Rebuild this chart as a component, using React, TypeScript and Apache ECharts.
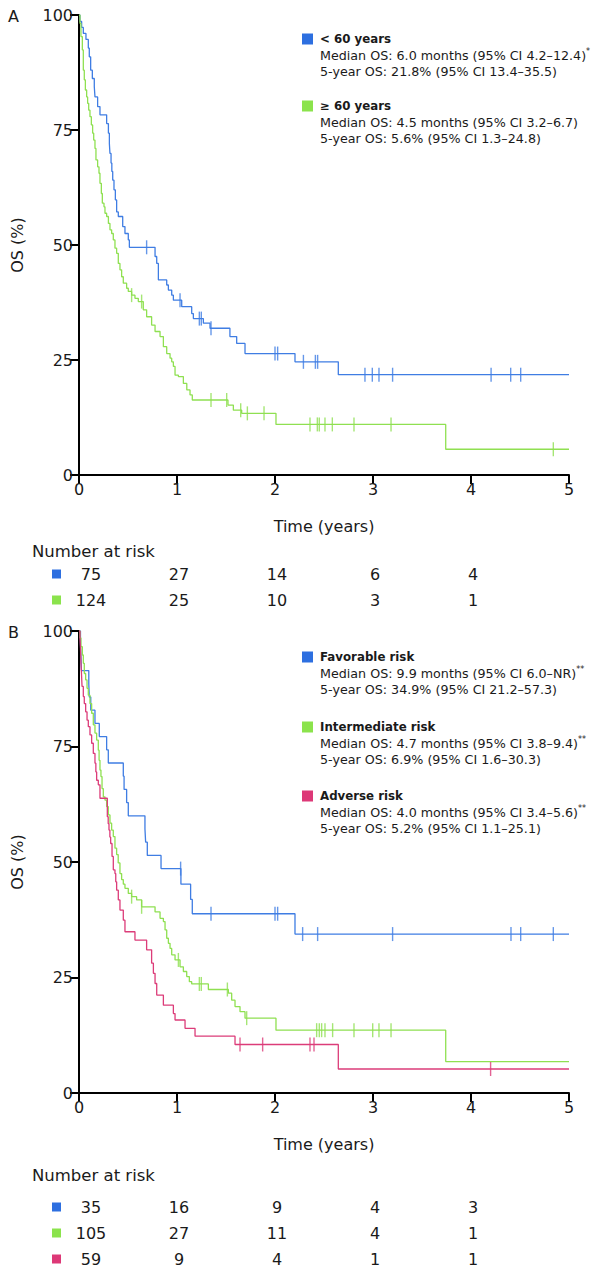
import React, { useEffect, useRef } from "react";
import * as echarts from "echarts";

const FONT = "DejaVu Sans";
const TXT = "#1a1a1a";
const BLUE = "#3f7de3";
const GREEN = "#8fe051";
const RED = "#dc3c79";
const BLUE_SQ = "#2d6fe0";
const GREEN_SQ = "#8be34c";
const RED_SQ = "#dd3877";

// ---------- Panel A data ----------
const under60Steps: number[][] = [
  [0, 100], [0.01, 98.6], [0.027, 97.3], [0.044, 96.0], [0.071, 94.7], [0.095, 92.8], [0.105, 90.9],
  [0.119, 88.0], [0.136, 86.2], [0.156, 84.4], [0.163, 82.2], [0.19, 80.1], [0.214, 78.3], [0.282, 76.4],
  [0.3, 74.3], [0.31, 72.0], [0.316, 69.9], [0.327, 67.8], [0.335, 66.0], [0.344, 64.1], [0.357, 62.0],
  [0.371, 59.8], [0.384, 57.2], [0.401, 56.2], [0.446, 54.0], [0.469, 52.5], [0.503, 51.1], [0.514, 49.5],
  [0.776, 47.5], [0.793, 46.0], [0.81, 42.4], [0.895, 41.3], [0.912, 40.2], [0.946, 39.1], [0.963, 38.0],
  [1.048, 36.6], [1.15, 35.1], [1.167, 34.0], [1.269, 33.0], [1.337, 31.9], [1.54, 30.1], [1.609, 28.6],
  [1.694, 26.4], [2.204, 24.6], [2.646, 21.8], [5, 21.8],
];
const under60Censor = [0.69, 1.031, 1.228, 1.248, 1.347, 2.0, 2.027, 2.29, 2.412, 2.435, 2.918, 2.993, 3.061, 3.2, 4.205, 4.405, 4.507];

const over60Steps: number[][] = [
  [0, 100], [0.01, 98.2], [0.02, 95.3], [0.034, 92.4], [0.044, 88.0], [0.054, 85.9], [0.065, 83.7],
  [0.078, 82.2], [0.088, 80.8], [0.099, 79.3], [0.112, 77.9], [0.126, 76.1], [0.139, 74.3], [0.15, 72.8],
  [0.163, 71.0], [0.173, 68.5], [0.19, 67.0], [0.204, 65.6], [0.214, 63.4], [0.228, 61.2], [0.238, 59.1],
  [0.255, 58.3], [0.265, 56.9], [0.282, 56.2], [0.3, 54.7], [0.316, 53.3], [0.333, 52.5], [0.35, 51.1],
  [0.367, 49.3], [0.384, 48.2], [0.401, 46.0], [0.418, 44.6], [0.435, 43.1], [0.452, 41.7], [0.486, 40.6],
  [0.503, 39.9], [0.537, 39.1], [0.571, 38.4], [0.605, 37.7], [0.656, 35.9], [0.69, 34.4], [0.741, 32.6],
  [0.776, 31.2], [0.827, 30.1], [0.861, 27.9], [0.895, 26.4], [0.929, 25.4], [0.946, 24.6], [0.963, 23.6],
  [0.98, 21.7], [1.014, 21.4], [1.065, 19.9], [1.1, 18.5], [1.133, 17.4], [1.156, 16.3], [1.52, 15.2],
  [1.575, 14.1], [1.66, 13.4], [2.01, 11.0], [3.742, 5.6], [5, 5.6],
];
const over60Censor = [0.537, 0.639, 1.347, 1.507, 1.65, 1.718, 1.888, 2.357, 2.432, 2.452, 2.51, 2.585, 2.806, 3.184, 4.84];

// ---------- Panel B data ----------
const favorableSteps: number[][] = [
  [0, 100], [0.015, 97.14], [0.02, 94.29], [0.025, 91.43], [0.1, 88.57], [0.105, 85.71], [0.12, 82.86],
  [0.163, 80.0], [0.207, 77.14], [0.282, 74.29], [0.299, 71.43], [0.452, 68.57], [0.46, 65.71],
  [0.486, 62.86], [0.503, 60.0], [0.673, 57.14], [0.68, 54.29], [0.697, 51.43], [0.837, 48.57],
  [1.04, 45.2], [1.139, 41.9], [1.156, 38.8], [2.204, 34.4], [5, 34.4],
];
const favorableCensor = [1.037, 1.347, 2.0, 2.027, 2.282, 2.435, 3.2, 4.408, 4.507, 4.84];

const intermediateSteps: number[][] = [
  [0, 100], [0.01, 98.5], [0.02, 96.6], [0.034, 94.8], [0.044, 93.0], [0.054, 90.8], [0.068, 89.4],
  [0.082, 87.6], [0.095, 86.1], [0.112, 84.3], [0.129, 82.2], [0.146, 79.7], [0.163, 77.9], [0.18, 76.4],
  [0.197, 74.2], [0.205, 72.0], [0.214, 69.9], [0.224, 68.5], [0.235, 65.9], [0.248, 64.1], [0.265, 63.4],
  [0.282, 62.0], [0.299, 60.2], [0.316, 58.4], [0.333, 56.9], [0.35, 55.5], [0.367, 53.0], [0.384, 51.6],
  [0.4, 49.8], [0.418, 47.5], [0.435, 46.2], [0.452, 45.2], [0.469, 44.3], [0.503, 43.2], [0.537, 42.5],
  [0.588, 41.8], [0.639, 40.3], [0.776, 39.2], [0.827, 37.8], [0.861, 37.1], [0.878, 35.3], [0.895, 33.5],
  [0.912, 32.4], [0.929, 31.3], [0.946, 29.9], [0.98, 28.8], [1.031, 27.3], [1.065, 26.3], [1.099, 25.2],
  [1.126, 24.1], [1.15, 23.6], [1.32, 22.4], [1.524, 21.6], [1.558, 20.1], [1.592, 18.7], [1.643, 17.6],
  [1.694, 16.2], [2.01, 13.6], [3.742, 6.8], [5, 6.8],
];
const intermediateCensor = [0.537, 0.639, 1.014, 1.228, 1.248, 1.514, 1.711, 2.425, 2.452, 2.476, 2.51, 2.588, 2.806, 2.997, 3.061, 3.184];

const adverseSteps: number[][] = [
  [0, 100], [0.01, 98.3], [0.015, 96.6], [0.02, 93.0], [0.025, 91.0], [0.031, 88.0], [0.044, 85.8],
  [0.054, 84.3], [0.068, 82.5], [0.082, 80.7], [0.095, 79.3], [0.112, 77.5], [0.129, 75.7], [0.146, 73.5],
  [0.163, 71.4], [0.172, 69.5], [0.18, 67.7], [0.197, 66.7], [0.214, 63.8], [0.289, 59.8], [0.298, 58.3],
  [0.306, 56.9], [0.315, 55.4], [0.323, 54.0], [0.337, 51.2], [0.35, 48.3], [0.367, 47.5], [0.375, 45.7],
  [0.384, 43.9], [0.401, 41.8], [0.418, 39.6], [0.452, 37.4], [0.469, 34.9], [0.571, 33.1], [0.69, 31.0],
  [0.741, 28.1], [0.759, 25.9], [0.776, 23.7], [0.793, 21.2], [0.861, 19.0], [0.963, 17.2], [0.98, 15.8],
  [1.082, 14.0], [1.184, 12.3], [1.592, 10.5], [2.646, 5.2], [5, 5.2],
];
const adverseCensor = [1.643, 1.874, 2.357, 2.398, 4.2];

// ---------- Number at risk ----------
const riskTimes = [0, 1, 2, 3, 4];
const riskA_under60 = [75, 27, 14, 6, 4];
const riskA_over60 = [124, 25, 10, 3, 1];
const riskB_favorable = [35, 16, 9, 4, 3];
const riskB_intermediate = [105, 27, 11, 4, 1];
const riskB_adverse = [59, 9, 4, 1, 1];

// ---------- Legend texts ----------
const legendA = [
  { title: "< 60 years", median: "Median OS: 6.0 months (95% CI 4.2–12.4)", mark: "*", five: "5-year OS: 21.8% (95% CI 13.4–35.5)" },
  { title: "≥ 60 years", median: "Median OS: 4.5 months (95% CI 3.2–6.7)", mark: "", five: "5-year OS: 5.6% (95% CI 1.3–24.8)" },
];
const legendB = [
  { title: "Favorable risk", median: "Median OS: 9.9 months (95% CI 6.0–NR)", mark: "**", five: "5-year OS: 34.9% (95% CI 21.2–57.3)" },
  { title: "Intermediate risk", median: "Median OS: 4.7 months (95% CI 3.8–9.4)", mark: "**", five: "5-year OS: 6.9% (95% CI 1.6–30.3)" },
  { title: "Adverse risk", median: "Median OS: 4.0 months (95% CI 3.4–5.6)", mark: "**", five: "5-year OS: 5.2% (95% CI 1.1–25.1)" },
];

const xTickValues = [0, 1, 2, 3, 4, 5];
const yTickValues = [0, 25, 50, 75, 100];

function valueAt(steps: number[][], t: number): number {
  let v = steps[0][1];
  for (const s of steps) {
    if (s[0] <= t) v = s[1];
    else break;
  }
  return v;
}

const gridA = { left: 79, top: 15, width: 490, height: 460 };
const gridB = { left: 79, top: 631, width: 490, height: 462 };

function xPix(grid: any, t: number) {
  return grid.left + (grid.width * t) / 5;
}

const DETAIL_SIZE = 12.7;

export default function App() {
  const ref = useRef<HTMLDivElement>(null);
  useEffect(() => {
    document.body.style.margin = "0";
    if (!ref.current) return;
    const chart = echarts.init(ref.current, undefined, { renderer: "svg" });

    const mkX = (gridIndex: number) => ({
      type: "value",
      gridIndex,
      min: 0,
      max: 5,
      interval: 1,
      name: "Time (years)",
      nameLocation: "middle",
      nameGap: 43,
      nameTextStyle: { fontFamily: FONT, fontSize: 16, color: TXT },
      axisLine: { show: true, lineStyle: { color: "#000", width: 2 } },
      axisTick: { show: true, length: 9, lineStyle: { color: "#000", width: 2 } },
      axisLabel: { fontFamily: FONT, fontSize: 16, color: TXT, margin: 6, formatter: (v: number) => (xTickValues.includes(v) ? String(v) : "") },
      splitLine: { show: false },
    });
    const mkY = (gridIndex: number) => ({
      type: "value",
      gridIndex,
      min: 0,
      max: 100,
      interval: 25,
      name: "OS (%)",
      nameLocation: "middle",
      nameGap: 54,
      nameRotate: 90,
      nameTextStyle: { fontFamily: FONT, fontSize: 16, color: TXT },
      axisLine: { show: true, lineStyle: { color: "#000", width: 2 } },
      axisTick: { show: true, length: 9, lineStyle: { color: "#000", width: 2 } },
      axisLabel: { fontFamily: FONT, fontSize: 16, color: TXT, margin: 6, formatter: (v: number) => (yTickValues.includes(v) ? String(v) : "") },
      splitLine: { show: false },
    });

    const curve = (name: string, steps: number[][], color: string, axis: number) => ({
      name,
      type: "line",
      step: "end",
      xAxisIndex: axis,
      yAxisIndex: axis,
      data: steps,
      showSymbol: false,
      lineStyle: { color, width: 1.3 },
      itemStyle: { color },
      z: 3,
    });
    const censor = (name: string, steps: number[][], times: number[], color: string, axis: number) => ({
      name: name + " censored",
      type: "scatter",
      xAxisIndex: axis,
      yAxisIndex: axis,
      data: times.map((t) => [t, valueAt(steps, t)]),
      symbol: "rect",
      symbolSize: [1.4, 14],
      itemStyle: { color },
      z: 4,
    });

    const graphics: any[] = [];
    const text = (str: string, x: number, y: number, opts: any = {}) => {
      graphics.push({
        type: "text",
        x,
        y,
        style: {
          text: str,
          fill: TXT,
          fontFamily: FONT,
          fontSize: 16,
          verticalAlign: "middle",
          align: "left",
          ...opts,
        },
      });
    };
    const square = (x: number, y: number, size: number, color: string) => {
      graphics.push({ type: "rect", shape: { x, y: y - size / 2, width: size, height: size }, style: { fill: color } });
    };

    // panel labels
    text("A", 8, 16, { fontSize: 16 });
    text("B", 8, 632, { fontSize: 16 });

    // legends
    const legendBlock = (items: any[], colors: string[], titleYs: number[]) => {
      items.forEach((it, i) => {
        const y0 = titleYs[i];
        square(302, y0, 11, colors[i]);
        text(it.title, 320, y0, { fontSize: 11.8, fontWeight: "bold" });
        graphics.push({
          type: "text",
          x: 320,
          y: y0 + 16,
          style: {
            text: "{a|" + it.median + "}" + (it.mark ? "{s|" + it.mark + "}" : ""),
            verticalAlign: "middle",
            rich: {
              a: { fontFamily: FONT, fontSize: DETAIL_SIZE, fill: TXT, color: TXT, lineHeight: 16 },
              s: { fontFamily: FONT, fontSize: 8, fill: TXT, color: TXT, verticalAlign: "top", lineHeight: 16 },
            },
          },
        });
        text(it.five, 320, y0 + 32, { fontSize: DETAIL_SIZE });
      });
    };
    legendBlock(legendA, [BLUE_SQ, GREEN_SQ], [39, 106]);
    legendBlock(legendB, [BLUE_SQ, GREEN_SQ, RED_SQ], [657, 727, 796]);

    // number at risk
    const riskBlock = (grid: any, headY: number, rows: number[][], colors: string[], rowYs: number[]) => {
      text("Number at risk", 32, headY, { fontSize: 16.5 });
      rows.forEach((vals, r) => {
        square(52, rowYs[r], 9, colors[r]);
        vals.forEach((v, i) => {
          const x = xPix(grid, riskTimes[i]) + (i === 0 ? 12 : 2);
          text(String(v), x, rowYs[r], { align: "center", fontSize: 16 });
        });
      });
    };
    riskBlock(gridA, 551, [riskA_under60, riskA_over60], [BLUE_SQ, GREEN_SQ], [574, 600]);
    riskBlock(gridB, 1175, [riskB_favorable, riskB_intermediate, riskB_adverse], [BLUE_SQ, GREEN_SQ, RED_SQ], [1207, 1233, 1259]);

    chart.setOption({
      animation: false,
      backgroundColor: "#fff",
      grid: [
        { ...gridA, containLabel: false },
        { ...gridB, containLabel: false },
      ],
      xAxis: [mkX(0), mkX(1)],
      yAxis: [mkY(0), mkY(1)],
      series: [
        curve("< 60 years", under60Steps, BLUE, 0),
        curve("≥ 60 years", over60Steps, GREEN, 0),
        censor("< 60 years", under60Steps, under60Censor, BLUE, 0),
        censor("≥ 60 years", over60Steps, over60Censor, GREEN, 0),
        curve("Favorable risk", favorableSteps, BLUE, 1),
        curve("Intermediate risk", intermediateSteps, GREEN, 1),
        curve("Adverse risk", adverseSteps, RED, 1),
        censor("Favorable risk", favorableSteps, favorableCensor, BLUE, 1),
        censor("Intermediate risk", intermediateSteps, intermediateCensor, GREEN, 1),
        censor("Adverse risk", adverseSteps, adverseCensor, RED, 1),
      ],
      graphic: graphics,
    });

    return () => chart.dispose();
  }, []);
  return <div ref={ref} style={{ width: 597, height: 1271 }} />;
}
